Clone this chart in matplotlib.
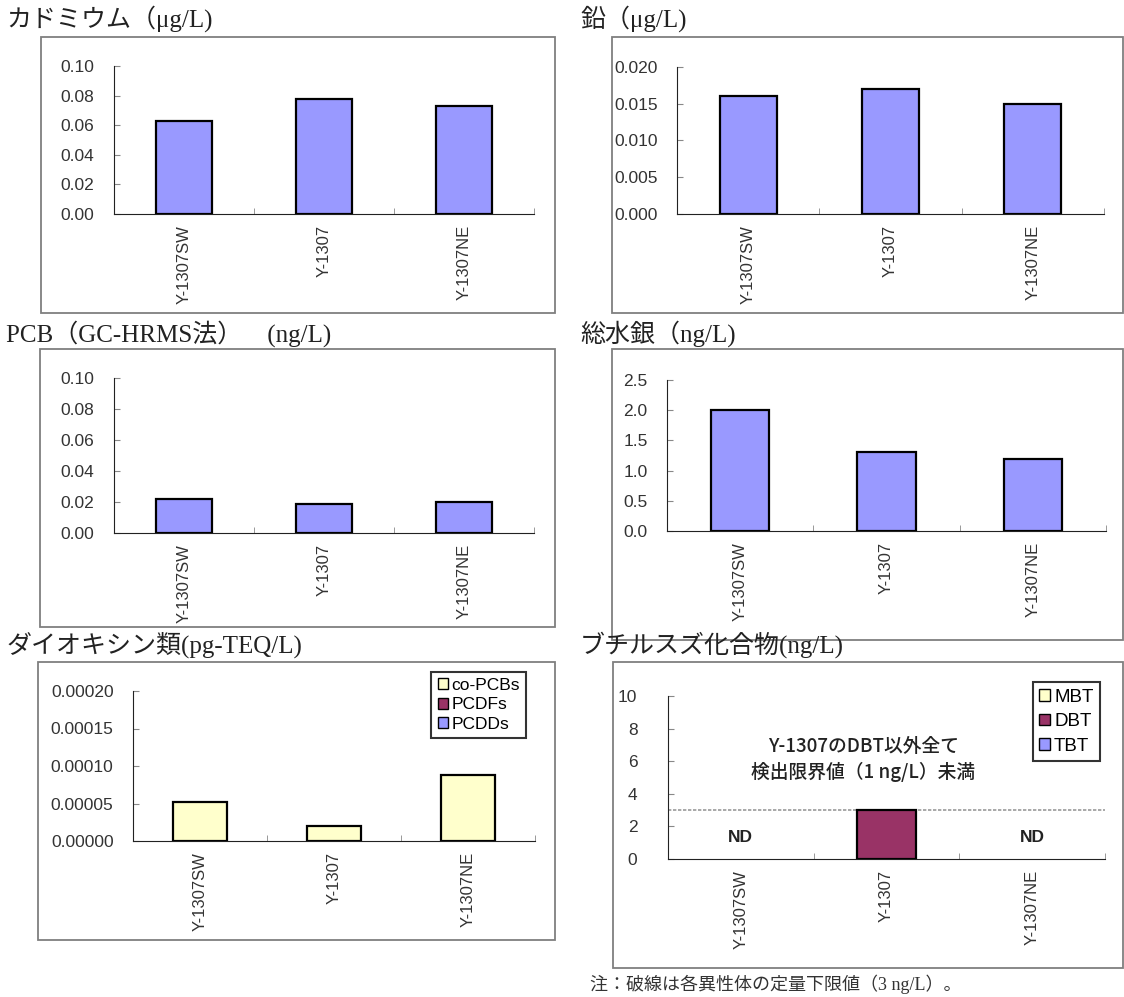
import matplotlib
matplotlib.use('Agg')
import matplotlib.pyplot as plt
from matplotlib.patches import Rectangle, Patch
import numpy as np

plt.rcParams['font.family'] = ['Liberation Sans', 'Noto Sans CJK JP', 'DejaVu Sans']

W, H = 1124, 997

# data
sites = ['Y-1307SW', 'Y-1307', 'Y-1307NE']
cadmium = [0.063, 0.078, 0.073]
lead = [0.016, 0.017, 0.015]
pcb = [0.022, 0.019, 0.020]
mercury = [2.0, 1.3, 1.2]
# dioxins (stacked from bottom: PCDDs, PCDFs, co-PCBs)
dx_pcdds = [0.0, 0.0, 0.0]
dx_pcdfs = [0.0, 0.0, 0.0]
dx_copcbs = [0.000052, 0.000020, 0.000088]
# butyltins (stacked from bottom: TBT, DBT, MBT)
bt_tbt = [0.0, 0.0, 0.0]
bt_dbt = [0.0, 3.0, 0.0]
bt_mbt = [0.0, 0.0, 0.0]
bt_limit = 3.0

BLUE = '#9999FF'
CREAM = '#FFFFCC'
PLUM = '#993366'
TICKC = '#333333'
CJK = ['Noto Sans CJK JP', 'DejaVu Sans']
TITLEF = ['Liberation Serif', 'Noto Sans CJK JP', 'DejaVu Sans']


def box(l, t, r, b):
    return [l / W, 1 - b / H, (r - l) / W, (b - t) / H]


def frame(fig, l, t, r, b):
    fig.add_artist(Rectangle((l / W, 1 - b / H), (r - l) / W, (b - t) / H,
                             transform=fig.transFigure, fill=False,
                             ec='#7f7f7f', lw=1.3))


def title(fig, x, y, s):
    fig.text(x / W, 1 - y / H, s, family=TITLEF, fontsize=18, color='#222222',
             va='center', ha='left')


def style_axes(ax, ymax, step, fmt):
    ax.set_xlim(-0.5, 2.5)
    ax.set_ylim(0, ymax)
    ticks = np.arange(0, ymax + step / 2, step)
    ax.set_yticks(ticks)
    ax.set_yticklabels([fmt.format(v) for v in ticks])
    ax.set_xticks(range(3))
    ax.set_xticklabels(sites, rotation=90)
    ax.set_xticks([0.5, 1.5, 2.5], minor=True)
    ax.spines['top'].set_visible(False)
    ax.spines['right'].set_visible(False)
    ax.spines['left'].set_color('#222222')
    ax.spines['bottom'].set_color('#222222')
    ax.tick_params(axis='y', direction='in', length=4, color='#888888',
                   labelsize=12.5, labelcolor=TICKC, pad=14)
    ax.tick_params(axis='x', which='major', length=0, labelsize=12,
                   labelcolor=TICKC, pad=8)
    ax.tick_params(axis='x', which='minor', direction='in', length=4,
                   color='#888888')


def stacked(ax, layers, colors):
    # draw only the non-zero pieces, like the spreadsheet does
    bottom = np.zeros(3)
    for vals, c in zip(layers, colors):
        vals = np.asarray(vals, dtype=float)
        idx = np.nonzero(vals)[0]
        if len(idx):
            ax.bar(idx, vals[idx], width=0.4, bottom=bottom[idx], color=c,
                   edgecolor='black', lw=1.6)
        bottom += vals


def legend(ax, labels, colors, anchor, fs, spacing):
    handles = [Patch(fc=c, ec='black') for c in colors]
    leg = ax.legend(handles, labels, loc='upper right',
                    bbox_to_anchor=(anchor[0] / W, 1 - anchor[1] / H),
                    bbox_transform=ax.figure.transFigure, fancybox=False,
                    edgecolor='black', fontsize=fs, handlelength=0.6,
                    handleheight=0.6, handletextpad=0.2, borderpad=0.35,
                    labelspacing=spacing, borderaxespad=0)
    leg.get_frame().set_linewidth(1.5)


fig = plt.figure(figsize=(W / 100, H / 100), dpi=100)

# cadmium
frame(fig, 41, 37, 555, 313)
title(fig, 6, 19, 'カドミウム（μg/L)')
ax = fig.add_axes(box(114, 66, 534, 214))
stacked(ax, [cadmium], [BLUE])
style_axes(ax, 0.10, 0.02, '{:.2f}')

# lead
frame(fig, 612, 37, 1123, 313)
title(fig, 580, 19, '鉛（μg/L)')
ax = fig.add_axes(box(677, 67, 1104, 214))
stacked(ax, [lead], [BLUE])
style_axes(ax, 0.020, 0.005, '{:.3f}')

# PCB
frame(fig, 40, 349, 555, 627)
title(fig, 6, 334, 'PCB（GC-HRMS法）　(ng/L)')
ax = fig.add_axes(box(114, 378, 534, 533))
stacked(ax, [pcb], [BLUE])
style_axes(ax, 0.10, 0.02, '{:.2f}')

# mercury
frame(fig, 612, 349, 1123, 640)
title(fig, 580, 334, '総水銀（ng/L)')
ax = fig.add_axes(box(667, 380, 1106, 531))
stacked(ax, [mercury], [BLUE])
style_axes(ax, 2.5, 0.5, '{:.1f}')

# dioxins
frame(fig, 38, 662, 555, 940)
title(fig, 6, 645, 'ダイオキシン類(pg-TEQ/L)')
ax = fig.add_axes(box(133, 691, 535, 841))
stacked(ax, [dx_pcdds, dx_pcdfs, dx_copcbs], [BLUE, PLUM, CREAM])
style_axes(ax, 0.00020, 0.00005, '{:.5f}')
legend(ax, ['co-PCBs', 'PCDFs', 'PCDDs'], [CREAM, PLUM, BLUE], (526, 672), 12.5, 0.25)

# butyltins
frame(fig, 613, 662, 1123, 968)
title(fig, 580, 645, 'ブチルスズ化合物(ng/L)')
ax = fig.add_axes(box(668, 696, 1105, 859))
stacked(ax, [bt_tbt, bt_dbt, bt_mbt], [BLUE, PLUM, CREAM])
style_axes(ax, 10, 2, '{:.0f}')
ax.tick_params(axis='y', pad=22)
ax.axhline(bt_limit, color='#999999', lw=1.2, ls=(0, (2, 1)), zorder=0)
totals = np.add(np.add(bt_tbt, bt_dbt), bt_mbt)
for i, v in enumerate(totals):
    if v == 0:
        ax.text(i, 1.3, 'ND', ha='center', va='center', fontsize=12.5,
                fontweight='bold', color='#222222')
ax.text(0.84, 6.1, 'Y-1307のDBT以外全て\n検出限界値（1 ng/L）未満', ha='center',
        va='center', fontsize=13.5, family=CJK, fontweight='medium',
        color='#222222', linespacing=1.35)
legend(ax, ['MBT', 'DBT', 'TBT'], [CREAM, PLUM, BLUE], (1100, 682), 13.5, 0.4)

fig.text(590 / W, 1 - 984 / H, '注：破線は各異性体の定量下限値（3 ng/L）。',
         family=TITLEF, fontsize=13, color='#333333', va='center', ha='left')

fig.savefig('out.png', dpi=100)
